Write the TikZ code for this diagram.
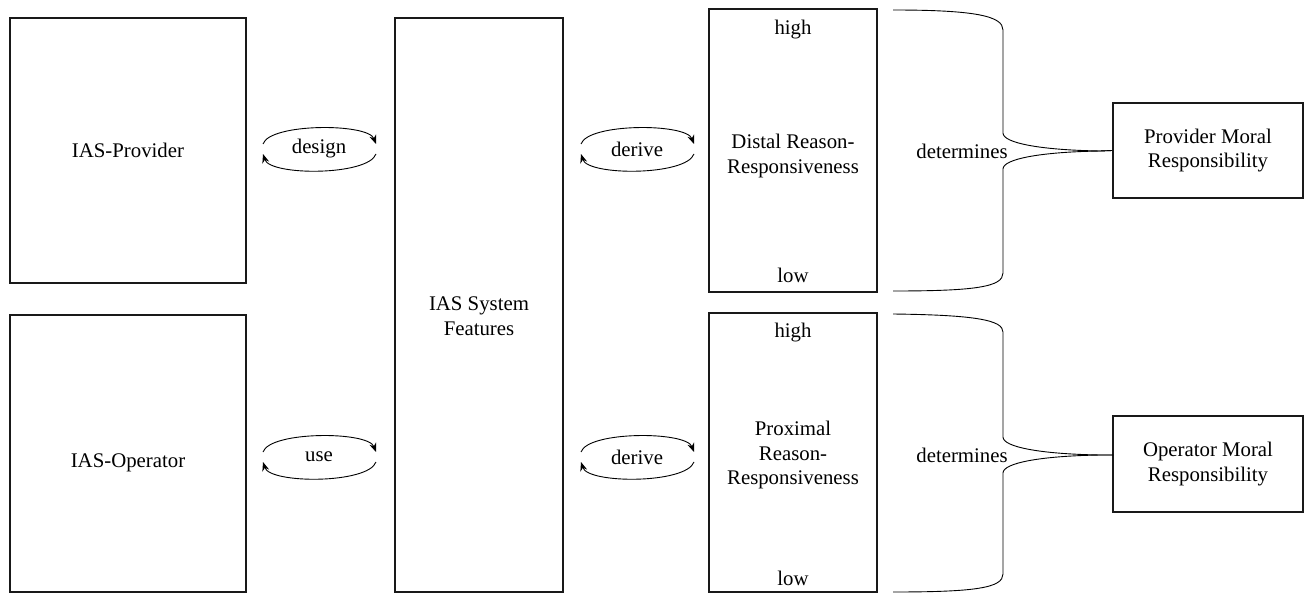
\documentclass[tikz,border=0pt]{standalone}
\usepackage{fontspec}
\setmainfont{Liberation Serif}
\newfontfamily\tnrfont{Liberation Serif}
\usetikzlibrary{arrows.meta,calc}
\begin{document}
\begin{tikzpicture}[x=1pt,y=-1pt,
  box/.style={draw=black!90, line width=1.8pt, inner sep=0pt},
  txt/.style={font=\tnrfont\fontsize{20.8}{24.5}\selectfont, align=center, inner sep=0pt},
  brace/.style={draw=black, line width=0.9pt},
  cyc/.style={draw=black, line width=0.9pt, -{Stealth[length=9pt,width=7pt]}}]
\useasboundingbox (0,0) rectangle (1312,594);

% boxes
\node[box, minimum width=236pt, minimum height=265pt] (prov) at (128,150.5) {};
\node[box, minimum width=236pt, minimum height=277pt] (oper) at (128,453.5) {};
\node[box, minimum width=168pt, minimum height=574pt] (sys) at (479,305) {};
\node[box, minimum width=168pt, minimum height=283pt] (dist) at (793,150.5) {};
\node[box, minimum width=168pt, minimum height=279pt] (prox) at (793,452.5) {};
\node[box, minimum width=190pt, minimum height=95pt] (pmr) at (1208,150.5) {};
\node[box, minimum width=190pt, minimum height=96pt] (omr) at (1208,464) {};

% texts
\node[txt] (provt) at (prov.center) {IAS-Provider};
\node[txt] (opert) at (128,463) {IAS-Operator};
\node[txt] (syst) at (479,316) {IAS System\\Features};
\node[txt] (distt) at (793,156) {Distal Reason-\\Responsiveness};
\node[txt] (disth) at (793,30) {high};
\node[txt] (distl) at (793,275) {low};
\node[txt] (proxt) at (793,455) {Proximal\\Reason-\\Responsiveness};
\node[txt] (proxh) at (793,333) {high};
\node[txt] (proxl) at (793,578) {low};
\node[txt] (pmrt) at (pmr.center) {Provider Moral\\Responsibility};
\node[txt] (omrt) at (omr.center) {Operator Moral\\Responsibility};
\node[txt] (det1) at (962,151) {determines};
\node[txt] (det2) at (962,455) {determines};

% cycle labels
\node[txt] (design) at (319,149) {design};
\node[txt] (derive1) at (637,149) {derive};
\node[txt] (use) at (319,457) {use};
\node[txt] (derive2) at (637,457) {derive};

\foreach \n in {design,derive1,use,derive2}{
  \draw[cyc] ($(\n)+(-56,-5)$) .. controls ($(\n)+(-49,-26)$) and ($(\n)+(49,-26)$) .. ($(\n)+(57,-5)$);
  \draw[cyc] ($(\n)+(57,5)$) .. controls ($(\n)+(49,27)$) and ($(\n)+(-49,27)$) .. ($(\n)+(-56,5)$);
}

% braces
\coordinate (ptip) at (pmr.west);
\coordinate (otip) at (1113,455);
\draw[brace] (893,10) .. controls (975,10) and (1003,16) .. (1003,30) -- (1003,133)
  .. controls (1003,143) and (1040,150) .. (1100,151) -- (ptip);
\draw[brace] (ptip) -- (1100,151) .. controls (1040,152) and (1003,159) .. (1003,169)
  -- (1003,273) .. controls (1003,287) and (975,291) .. (893,291);
\draw[brace] (893,314) .. controls (975,315) and (1003,320) .. (1003,332) -- (1003,437)
  .. controls (1003,447) and (1040,454) .. (1100,455) -- (otip);
\draw[brace] (otip) -- (1100,455) .. controls (1040,456) and (1003,463) .. (1003,473)
  -- (1003,574) .. controls (1003,588) and (975,592) .. (893,592);
\end{tikzpicture}
\end{document}
